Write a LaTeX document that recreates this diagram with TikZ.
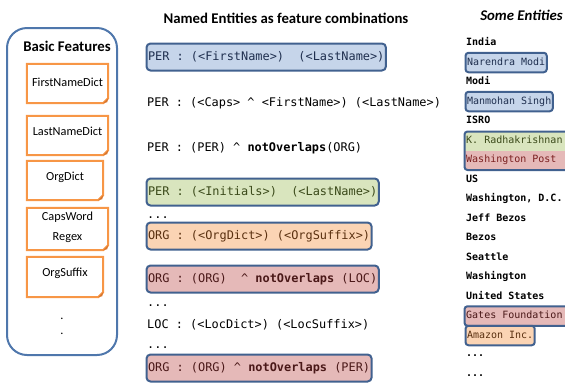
\documentclass[tikz,border=0pt]{standalone}
\usepackage{fontspec}
\setmainfont{Carlito}
\newfontfamily\monof{DejaVu Sans Mono}
\definecolor{bordc}{HTML}{41618F}
\definecolor{outerc}{HTML}{4F77AC}
\definecolor{featc}{HTML}{F79646}
\definecolor{featd}{HTML}{D9772E}
\definecolor{bluef}{HTML}{C6D5EA}
\definecolor{greenf}{HTML}{D9E5BE}
\definecolor{orangef}{HTML}{FBD4B4}
\definecolor{redf}{HTML}{E5B9B8}
\definecolor{bluet}{HTML}{1F2F4F}
\definecolor{greent}{HTML}{3B4A1A}
\definecolor{oranget}{HTML}{5A3010}
\definecolor{redt}{HTML}{4A1818}
\definecolor{redt2}{HTML}{7A1F1F}
\begin{document}
\begin{tikzpicture}[x=1pt,y=-1pt,
  title/.style={font=\fontsize{14.8}{16}\selectfont\bfseries, inner sep=0pt},
  outerbox/.style={draw=outerc, line width=2pt, rounded corners=20pt, minimum width=110pt, minimum height=327pt},
  featbox/.style={draw=none, minimum width=81pt, minimum height=39pt, inner sep=0pt},
  featline/.style={draw=featc, line width=2pt, line join=miter},
  feattext/.style={font=\fontsize{12.3}{20}\selectfont, inner sep=0pt, align=center},
  row/.style={font=\monof\fontsize{11.9}{14}\selectfont, anchor=west, inner xsep=0pt, inner ysep=0pt, text height=8.8pt, text depth=2.5pt},
  rowbox/.style={row, draw=bordc, line width=2pt, rounded corners=4pt, inner xsep=1.5pt, minimum height=27pt},
  dotsrow/.style={font=\monof\fontsize{11.9}{14}\selectfont, anchor=base west, inner sep=0pt},
  ent/.style={font=\monof\fontsize{10}{12}\selectfont\bfseries, anchor=west, inner sep=0pt, text height=7.4pt, text depth=2.1pt},
  entbox/.style={font=\monof\fontsize{10}{12}\selectfont, anchor=west, draw=bordc, line width=2pt, rounded corners=3pt, inner xsep=1.5pt, inner ysep=0pt, text height=7.4pt, text depth=2.1pt, minimum height=19.5pt},
  entplain/.style={font=\monof\fontsize{10}{12}\selectfont, anchor=west, inner sep=0pt, text height=7.4pt, text depth=2.1pt},
  entframe/.style={draw=bordc, line width=2pt, rounded corners=3pt}
]
\useasboundingbox (0,0) rectangle (565,384);

% ---- Basic features column
\node[outerbox] (bf) at (62,191.5) {};
\node[title] (bft) at (67,46) {Basic Features};

\node[featbox] (f1) at (67.5,83.5) {};
\node[featbox] (f2) at (67.5,135.5) {};
\node[featbox, minimum width=76pt] (f3) at (65,180.5) {};
\node[featbox, minimum height=42pt] (f4) at (67.5,229) {};
\node[featbox, minimum width=76pt, minimum height=40pt] (f5) at (65,277) {};
\foreach \n in {f1,f2,f3,f4,f5}{
  \draw[featline] (\n.north west) -- (\n.north east) -- ([yshift=5pt]\n.south east) -- ([xshift=-5pt]\n.south east) -- (\n.south west) -- cycle;
  \fill[featd] ([yshift=5pt]\n.south east) -- ([xshift=-5pt]\n.south east) -- ([xshift=-1pt,yshift=1pt]\n.south east) -- cycle;
}
\node[feattext] (t1) at (67.5,82) {FirstNameDict};
\node[feattext] (t2) at (67.5,131) {LastNameDict};
\node[feattext] (t3) at (65,177) {OrgDict};
\node[feattext] (t4) at (67.5,227) {CapsWord\\Regex};
\node[feattext] (t5) at (65,273) {OrgSuffix};
\node[feattext] (d1) at (62,319) {.};
\node[feattext] (d2) at (62,334) {.};

% ---- Named entities column
\node[title] (net) at (286,18) {Named Entities as feature combinations};

\node[rowbox, fill=bluef, text=bluet] (r1) at (145.5,57) {PER : (<FirstName>)\ \ (<LastName>)};
\node[row] (r2) at (147,103) {PER : (<Caps> \^{} <FirstName>) (<LastName>)};
\node[row] (r3) at (147,148) {PER : (PER) \^{} \textbf{notOverlaps}(ORG)};
\node[rowbox, fill=greenf, text=greent] (r4) at (145.5,192) {PER : (<Initials>)\ \ (<LastName>)};
\node[dotsrow] (rd1) at (147,218) {...};
\node[rowbox, fill=orangef, text=oranget] (r5) at (145.5,236) {ORG : (<OrgDict>) (<OrgSuffix>)};
\node[rowbox, fill=redf, text=redt] (r6) at (145.5,279) {ORG : (ORG)\ \ \^{} \textbf{notOverlaps} (LOC)};
\node[dotsrow] (rd2) at (147,306) {...};
\node[row] (r7) at (147,325) {LOC : (<LocDict>) (<LocSuffix>)};
\node[dotsrow] (rd3) at (147,348) {...};
\node[rowbox, fill=redf, text=redt] (r8) at (145.5,368) {ORG : (ORG) \^{} \textbf{notOverlaps} (PER)};

% ---- Some entities column
\node[title, font=\fontsize{14.8}{16}\selectfont\bfseries\itshape] (set) at (521.5,15) {Some Entities};

\node[ent] (e0) at (466,43) {India};
\node[entbox, fill=bluef, text=bluet] (e1) at (464.5,62.5) {Narendra Modi};
\node[ent] (e2) at (466,82) {Modi};
\node[entbox, fill=bluef, text=bluet] (e3) at (464.5,101.5) {Manmohan Singh};
\node[ent] (e4) at (466,121) {ISRO};
% combined box K. Radhakrishnan / Washington Post
\coordinate (kbtl) at (464.5,131.5);
\coordinate (kbmid) at (570,150.5);
\coordinate (kbml) at (464.5,150.5);
\coordinate (kbbr) at (570,170);
\begin{scope}
  \clip[rounded corners=3pt] (kbtl) rectangle (kbbr);
  \fill[greenf] (kbtl) rectangle (kbmid);
  \fill[redf] (kbml) rectangle (kbbr);
\end{scope}
\draw[entframe] (kbtl) rectangle (kbbr);
\node[entplain, text=greent] (e5) at (466,140.5) {K. Radhakrishnan};
\node[entplain, text=redt2] (e6) at (466,160) {Washington Post};
\node[ent] (e7) at (466,179.5) {US};
\node[ent] (e8) at (466,199) {Washington, D.C.};
\node[ent] (e9) at (466,218.5) {Jeff Bezos};
\node[ent] (e10) at (466,238) {Bezos};
\node[ent] (e11) at (466,257.5) {Seattle};
\node[ent] (e12) at (466,277) {Washington};
\node[ent] (e13) at (466,296.5) {United States};
% Gates Foundation box running off the right edge
\coordinate (gbtl) at (464.5,306.25);
\coordinate (gbbr) at (570,325.75);
\fill[redf, rounded corners=3pt] (gbtl) rectangle (gbbr);
\draw[entframe] (gbtl) rectangle (gbbr);
\node[entplain, text=redt] (e14) at (466,316) {Gates Foundation};
\node[entbox, fill=orangef, text=oranget] (e15) at (464.5,335.5) {Amazon Inc.};
\node[dotsrow, font=\monof\fontsize{10}{12}\selectfont\bfseries] (ed1) at (466,356) {...};
\node[dotsrow, font=\monof\fontsize{10}{12}\selectfont\bfseries] (ed2) at (466,376) {...};
\end{tikzpicture}
\end{document}
